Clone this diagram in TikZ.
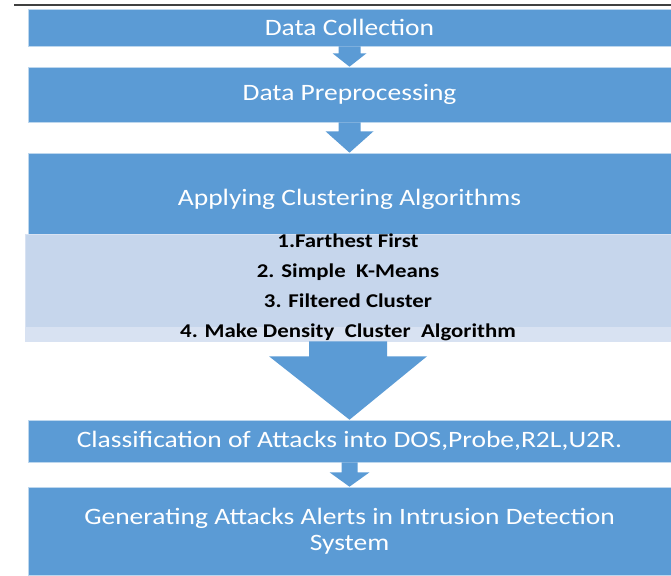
\documentclass[tikz,border=0pt]{standalone}
\usepackage{fontspec}
\setmainfont{Carlito}[FakeStretch=1.17]
\usetikzlibrary{calc,positioning}
\definecolor{boxblue}{RGB}{91,155,213}
\definecolor{boxedge}{RGB}{189,215,238}
\definecolor{alglight}{RGB}{198,214,236}
\definecolor{algband}{RGB}{216,226,242}
\tikzset{
  stage/.style={
    shape = rectangle,
    fill = boxblue,
    draw = boxedge,
    line width = 0.6pt,
    minimum width = 643pt,
    inner sep = 0pt,
    align = center,
    text = white,
    font = \fontsize{23.5}{26}\selectfont
  },
  algs/.style={
    shape = rectangle,
    fill = alglight,
    draw = algband,
    line width = 0.6pt,
    minimum width = 646pt,
    minimum height = 105pt,
    inner sep = 0pt,
    align = center,
    font = \fontsize{19.5}{30}\bfseries\selectfont,
    path picture={
      \fill[algband] (path picture bounding box.south west)
        rectangle ([yshift=14pt]path picture bounding box.south east);
    }
  },
  blockarr/.style={
    fill = boxblue
  },
  topline/.style={
    line width = 2pt,
    draw = black!75
  }
}

\begin{document}
\begin{tikzpicture}[x=1pt,y=-1pt]
\useasboundingbox (0,0) rectangle (671,575);
\draw[topline] (14,5) -- (671,5);
\node[stage, minimum height=37pt] (dc) at (349.5,27.5) {Data Collection};
\node[stage, minimum height=55pt] (dp) at (349.5,94.5) {Data Preprocessing};
\node[stage, minimum height=82pt, text height=28pt, text depth=5pt] (ac) at (349.5,194) {Applying Clustering Algorithms};
\node[algs] (alg) at (348,287.5) {1.Farthest First\\2. Simple\ \ K-Means\\3. Filtered Cluster\\4. Make Density\ \ Cluster\ \ Algorithm};
\node[stage, minimum height=42pt] (cl) at (349.5,441) {Classification of Attacks into DOS,Probe,R2L,U2R.};
\node[stage, minimum height=88pt] (ge) at (349.5,531) {Generating Attacks Alerts in Intrusion Detection\\System};
% block arrows: from / to / stem half / head half / head start
\foreach \a/\b/\s/\h/\d in {dc/dp/11/17/7, dp/ac/11/24/9, alg/cl/39/79/15, cl/ge/8/20/10}{
  \fill[blockarr] ($(\a.south)+(-\s,0)$) -- ($(\a.south)+(-\s,\d)$) -- ($(\a.south)+(-\h,\d)$)
    -- (\b.north) -- ($(\a.south)+(\h,\d)$) -- ($(\a.south)+(\s,\d)$) -- ($(\a.south)+(\s,0)$) -- cycle; }
\end{tikzpicture}
\end{document}
